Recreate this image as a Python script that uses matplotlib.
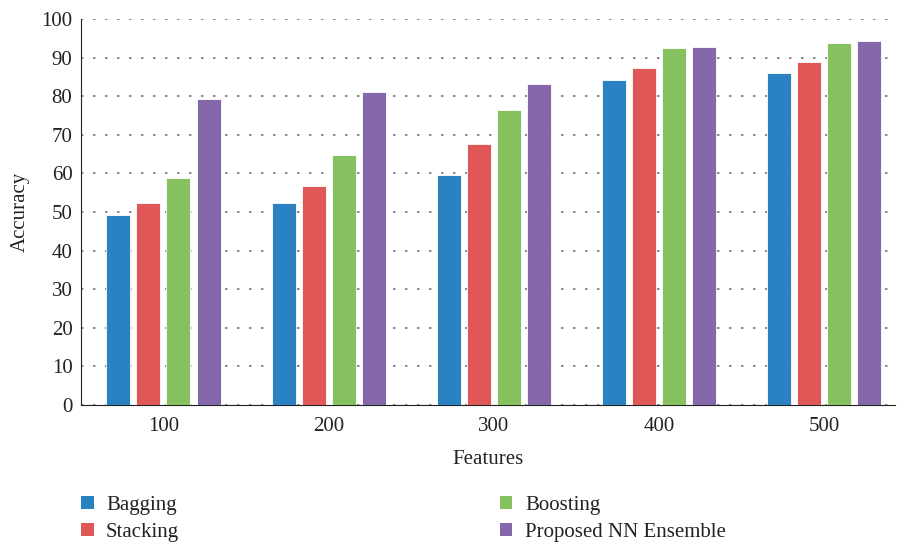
import matplotlib
matplotlib.use("Agg")
import matplotlib.pyplot as plt
from matplotlib.patches import Patch
import numpy as np

plt.rcParams['font.family'] = ['Liberation Serif', 'DejaVu Serif']

features = ["100", "200", "300", "400", "500"]
bagging = [49.2, 52.3, 59.6, 84.1, 85.9]
stacking = [52.4, 56.6, 67.7, 87.2, 88.9]
boosting = [58.8, 64.8, 76.4, 92.4, 93.9]
proposed = [79.2, 81.0, 83.2, 92.7, 94.3]

names = ["Bagging", "Stacking", "Boosting", "Proposed NN Ensemble"]
colors = ["#2a82c2", "#e05757", "#86c160", "#8568aa"]

fig = plt.figure(figsize=(8.98, 5.42), dpi=100)
ax = fig.add_axes([0.090, 0.253, 0.907, 0.712])

x = np.arange(len(features))
width = 0.145
step = 0.182
series = [bagging, stacking, boosting, proposed]
for i, vals in enumerate(series):
    ax.bar(x + (i - 1.5) * step, vals, width, color=colors[i],
           edgecolor="white", linewidth=0.6, zorder=3)

ax.set_ylim(0, 100)
ax.set_yticks(range(0, 101, 10))
ax.set_xlim(-0.5, 4.43)
ax.set_xticks(x)
ax.set_xticklabels(features)
ax.yaxis.grid(True, linestyle=(0, (1.5, 5.7)), color="#777777", linewidth=1.2, zorder=0)
ax.spines["top"].set_visible(False)
ax.spines["right"].set_visible(False)
ax.spines["left"].set_color("#222222")
ax.spines["bottom"].set_color("#222222")
ax.tick_params(axis="both", labelsize=15, length=0, labelcolor="#222222")
ax.tick_params(axis="y", pad=6)
ax.tick_params(axis="x", pad=9)

ax.set_xlabel("Features", fontsize=15, labelpad=10, color="#222222")
ax.set_ylabel("Accuracy", fontsize=15, labelpad=8, color="#222222")

handles = [Patch(facecolor=c, edgecolor="none") for c in colors]
leg = fig.legend(handles, names, loc="upper left", bbox_to_anchor=(0.074, 0.112),
                 ncol=2, frameon=False, fontsize=15, handlelength=0.6,
                 handleheight=0.6, handletextpad=0.6, columnspacing=15.4,
                 labelspacing=0.4, borderpad=0.2)
for t in leg.get_texts():
    t.set_color("#222222")

plt.savefig("out.png", dpi=100)
